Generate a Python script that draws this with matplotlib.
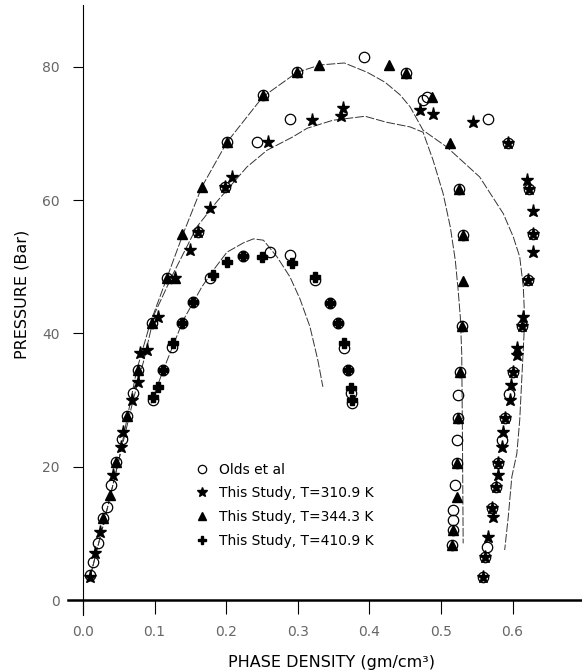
import numpy as np
import matplotlib
matplotlib.use("Agg")
import matplotlib.pyplot as plt

# --------------------------
# Data
# --------------------------

# Olds et al (open circles)
olds_rho = [0.010, 0.014, 0.021, 0.028, 0.033, 0.039, 0.046, 0.054, 0.061, 0.070,
            0.077, 0.096, 0.117, 0.161, 0.198, 0.201, 0.243, 0.251, 0.289, 0.299,
            0.392, 0.451, 0.475, 0.480, 0.566, 0.594, 0.525, 0.531, 0.623, 0.628,
            0.622, 0.613, 0.529, 0.527, 0.524, 0.524, 0.522, 0.522, 0.520, 0.517,
            0.517, 0.517, 0.515, 0.601, 0.595, 0.589, 0.585, 0.580, 0.577, 0.571,
            0.564, 0.561, 0.559,
            0.098, 0.112, 0.124, 0.138, 0.154, 0.177, 0.224, 0.261, 0.289, 0.324,
            0.345, 0.356, 0.364, 0.370, 0.375, 0.376]
olds_p = [3.7, 5.7, 8.5, 12.3, 14.0, 17.2, 20.7, 24.1, 27.6, 31.0,
          34.5, 41.5, 48.3, 55.3, 62.0, 68.7, 68.7, 75.8, 72.2, 79.2,
          81.5, 79.1, 75.0, 75.5, 72.2, 68.6, 61.7, 54.8, 61.7, 55.0,
          48.0, 41.1, 41.1, 34.2, 30.8, 27.3, 24.0, 20.6, 17.3, 13.5,
          12.0, 10.5, 8.3, 34.2, 30.9, 27.3, 24.0, 20.6, 17.0, 13.8,
          8.0, 6.5, 3.5,
          30.0, 34.5, 38.0, 41.5, 44.7, 48.3, 51.6, 52.2, 51.8, 48.0,
          44.6, 41.6, 37.8, 34.5, 31.0, 29.5]

# This study, T = 310.9 K (stars)
t310_rho = [0.010, 0.017, 0.024, 0.042, 0.053, 0.056, 0.068, 0.077, 0.080, 0.089,
            0.105, 0.128, 0.149, 0.161, 0.177, 0.198, 0.208, 0.258, 0.320, 0.363,
            0.361, 0.471, 0.489, 0.545, 0.594, 0.620, 0.623, 0.628, 0.628, 0.628,
            0.622, 0.615, 0.613, 0.606, 0.606, 0.601, 0.598, 0.596, 0.589, 0.587,
            0.585, 0.580, 0.580, 0.577, 0.571, 0.573, 0.566, 0.561, 0.559]
t310_p = [3.5, 7.0, 10.2, 18.8, 23.0, 25.2, 30.0, 32.7, 37.0, 37.5,
          42.5, 48.3, 52.5, 55.3, 58.8, 62.0, 63.5, 68.7, 72.0, 73.8,
          72.6, 73.5, 73.0, 71.8, 68.6, 63.0, 61.7, 58.4, 55.0, 52.3,
          48.0, 42.5, 41.1, 37.8, 36.8, 34.2, 32.3, 30.0, 27.3, 25.2,
          23.0, 20.6, 18.8, 17.0, 13.8, 12.5, 9.5, 6.5, 3.5]

# This study, T = 344.3 K (triangles)
t344_rho = [0.028, 0.037, 0.046, 0.061, 0.077, 0.096, 0.117, 0.128, 0.138, 0.166,
            0.201, 0.251, 0.299, 0.330, 0.427, 0.451, 0.487, 0.513, 0.525, 0.531,
            0.531, 0.529, 0.527, 0.524, 0.522, 0.522, 0.517, 0.515]
t344_p = [12.3, 15.7, 20.7, 27.6, 34.5, 41.5, 48.3, 48.3, 55.0, 62.0,
          68.7, 75.8, 79.2, 80.3, 80.3, 79.1, 75.5, 68.6, 61.7, 54.8,
          47.9, 41.1, 34.2, 27.3, 20.6, 15.5, 10.5, 8.3]

# This study, T = 410.9 K (filled plus)
t410_rho = [0.098, 0.105, 0.112, 0.126, 0.138, 0.154, 0.182, 0.201, 0.224, 0.250,
            0.292, 0.324, 0.345, 0.356, 0.364, 0.370, 0.375, 0.376]
t410_p = [30.5, 32.0, 34.5, 38.5, 41.5, 44.7, 48.8, 50.7, 51.6, 51.5,
          50.6, 48.5, 44.6, 41.6, 38.6, 34.5, 31.8, 30.0]

# model curves
curve1_rho = [0.010, 0.030, 0.050, 0.075, 0.094, 0.117, 0.140, 0.166, 0.201, 0.251,
              0.299, 0.331, 0.365, 0.397, 0.422, 0.443, 0.457, 0.475, 0.508, 0.554,
              0.587, 0.601, 0.610, 0.615, 0.617, 0.610, 0.606, 0.599, 0.594, 0.589]
curve1_p = [3.5, 12.0, 21.0, 34.5, 41.6, 48.3, 55.0, 62.0, 68.7, 75.5,
            79.2, 80.3, 80.6, 79.2, 77.7, 75.8, 74.0, 70.5, 68.0, 63.5,
            58.0, 54.5, 51.5, 47.0, 42.0, 27.0, 22.0, 18.5, 12.5, 7.5]

curve2_rho = [0.010, 0.030, 0.050, 0.070, 0.085, 0.100, 0.126, 0.159, 0.187, 0.229,
              0.257, 0.293, 0.313, 0.349, 0.394, 0.424, 0.457, 0.475, 0.489, 0.503,
              0.513, 0.520, 0.524, 0.527, 0.529, 0.530, 0.531]
curve2_p = [3.5, 12.0, 21.0, 30.0, 36.0, 43.0, 49.0, 56.0, 59.8, 65.0,
            67.5, 69.5, 70.8, 72.0, 72.6, 71.7, 71.0, 70.2, 66.0, 61.0,
            56.0, 51.0, 46.5, 42.5, 37.0, 24.5, 8.5]

curve3_rho = [0.095, 0.112, 0.140, 0.166, 0.182, 0.201, 0.224, 0.238, 0.252, 0.271,
              0.289, 0.303, 0.317, 0.328, 0.335]
curve3_p = [29.5, 34.5, 42.0, 47.0, 49.5, 52.2, 53.6, 54.2, 54.0, 51.5,
            48.5, 45.2, 41.0, 36.0, 32.0]

xticks = [0.0, 0.1, 0.2, 0.3, 0.4, 0.5, 0.6]
xtick_labels = ["0.0", "0.1", "0.2", "0.3", "0.4", "0.5", "0.6"]
yticks = [0, 20, 40, 60, 80]
ytick_labels = ["0", "20", "40", "60", "80"]

# --------------------------
# Plot
# --------------------------
fig = plt.figure(figsize=(5.82, 6.72), dpi=100)
ax = fig.add_axes([68 / 582, 57 / 672, 514 / 582, 610 / 672])

line_kw = dict(color="#333333", lw=0.7, ls=(0, (9, 2)), zorder=1)
ax.plot(curve1_rho, curve1_p, **line_kw)
ax.plot(curve2_rho, curve2_p, **line_kw)
ax.plot(curve3_rho, curve3_p, **line_kw)

ax.plot(olds_rho, olds_p, ls="none", marker="o", ms=7.5, mfc="none", mec="black",
        mew=0.9, label="Olds et al", zorder=2)
ax.plot(t310_rho, t310_p, ls="none", marker="*", ms=9.5, color="black",
        label="This Study, T=310.9 K", zorder=3)
ax.plot(t344_rho, t344_p, ls="none", marker="^", ms=7, color="black",
        label="This Study, T=344.3 K", zorder=3)
ax.plot(t410_rho, t410_p, ls="none", marker="P", ms=7, color="black",
        label="This Study, T=410.9 K", zorder=3)

ax.set_xlim(-0.021, 0.697)
ax.set_ylim(-2.25, 89.3)

# axes cross at the origin like the original
ax.spines["left"].set_position(("data", 0))
ax.spines["bottom"].set_position(("data", 0))
ax.spines["right"].set_visible(False)
ax.spines["top"].set_visible(False)
ax.spines["left"].set_linewidth(0.8)
ax.spines["bottom"].set_linewidth(1.8)

ax.set_xticks(xticks)
ax.set_xticklabels(xtick_labels)
ax.set_yticks(yticks)
ax.set_yticklabels(ytick_labels)
ax.tick_params(axis="x", direction="out", length=10, width=0.8, pad=8,
               labelsize=10, labelcolor="#666666")
ax.tick_params(axis="y", direction="out", length=7, width=0.8, pad=10,
               labelsize=10, labelcolor="#666666")

fig.text(0.57, 1 - 662 / 672, "PHASE DENSITY (gm/cm³)", ha="center", va="center",
         fontsize=11.5)
fig.text(22 / 582, 1 - 294 / 672, "PRESSURE (Bar)", ha="center", va="center",
         rotation=90, fontsize=11.5)

leg = ax.legend(loc="upper left", bbox_to_anchor=(183 / 582, 1 - 450 / 672),
                bbox_transform=fig.transFigure, frameon=False, fontsize=10,
                handlelength=1.0, handletextpad=0.7, labelspacing=0.7,
                markerscale=0.8)

fig.savefig("out.png", dpi=100)
